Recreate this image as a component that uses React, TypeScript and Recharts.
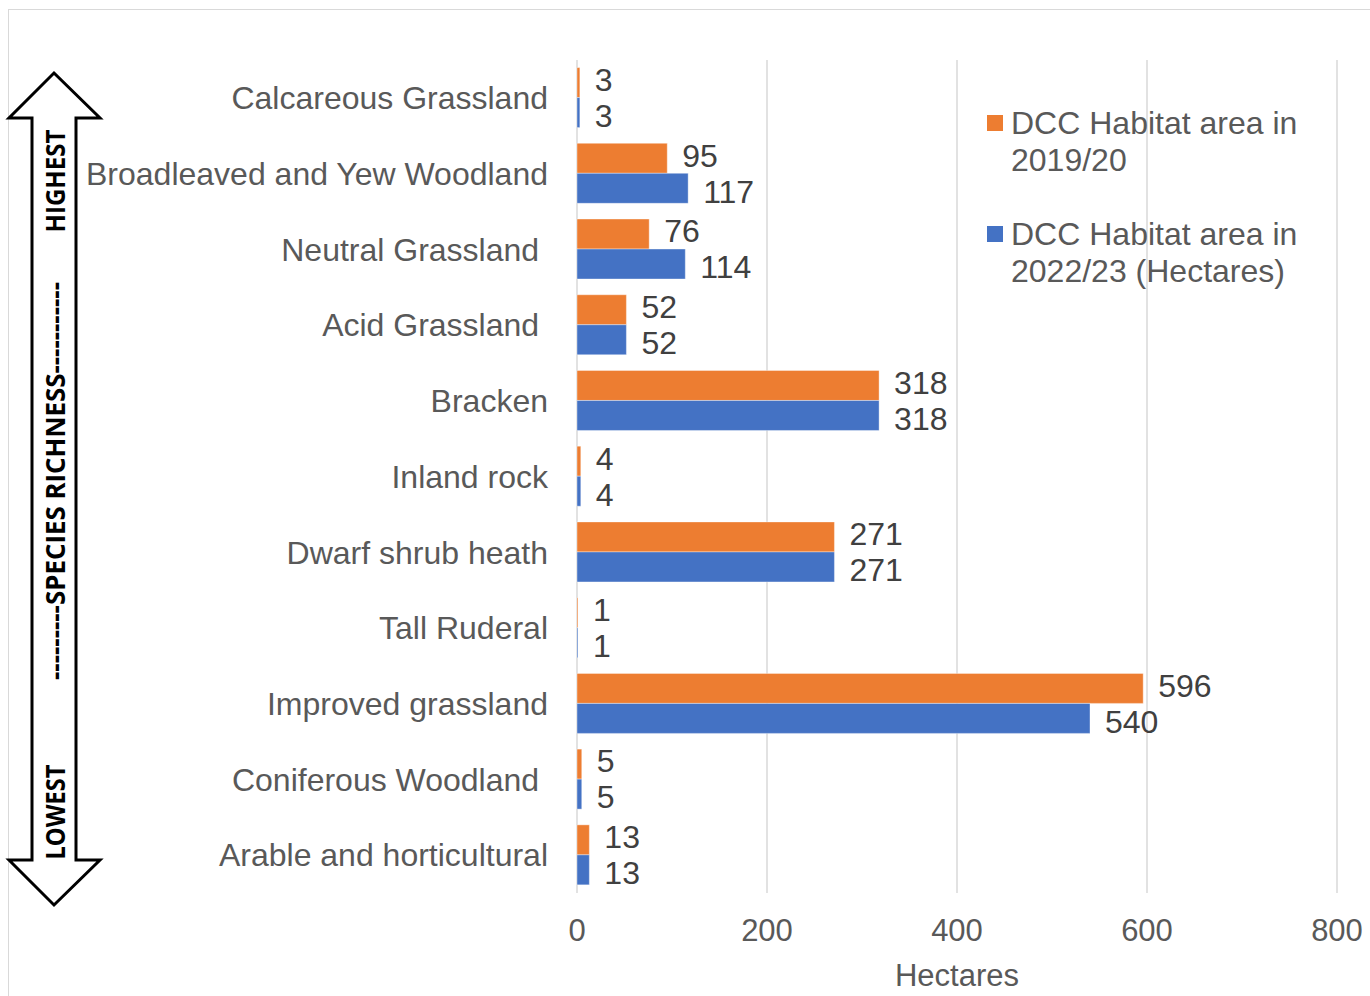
import React from 'react';
import { BarChart, Bar, XAxis, YAxis, CartesianGrid, Legend, LabelList } from 'recharts';

const categories: string[] = [
  'Calcareous Grassland',
  'Broadleaved and Yew Woodland',
  'Neutral Grassland ',
  'Acid Grassland ',
  'Bracken',
  'Inland rock',
  'Dwarf shrub heath',
  'Tall Ruderal',
  'Improved grassland',
  'Coniferous Woodland ',
  'Arable and horticultural',
];

const area2019: number[] = [3, 95, 76, 52, 318, 4, 271, 1, 596, 5, 13];
const area2022: number[] = [3, 117, 114, 52, 318, 4, 271, 1, 540, 5, 13];

const seriesNames: string[] = [
  'DCC Habitat area in 2019/20',
  'DCC Habitat area in 2022/23 (Hectares)',
];

const xTicks: number[] = [0, 200, 400, 600, 800];

const data = categories.map((name, i) => ({
  name,
  a2019: area2019[i],
  a2022: area2022[i],
}));

const ORANGE = '#ED7D31';
const BLUE = '#4472C4';
const FONT = '"Liberation Sans", Arial, sans-serif';

const CategoryTick = (props: any) => {
  const { x, y, payload } = props;
  return (
    <text
      x={x}
      y={y}
      dy="0.355em"
      textAnchor="end"
      fill="#595959"
      fontSize={32}
      fontFamily={FONT}
      xmlSpace="preserve"
      style={{ whiteSpace: 'pre' }}
    >
      {payload.value}
    </text>
  );
};

const makeLabel = (shift: number) => (props: any) => {
  const { x, y, width, height, value } = props;
  return (
    <text
      x={Number(x) + Number(width) + 15}
      y={Number(y) + Number(height) / 2 + shift}
      dy="0.355em"
      textAnchor="start"
      fill="#404040"
      fontSize={32}
      fontFamily={FONT}
    >
      {value}
    </text>
  );
};

const LegendContent = () => {
  const colors = [ORANGE, BLUE];
  return (
    <div style={{ fontFamily: FONT, fontSize: 32, lineHeight: '37px', color: '#595959' }}>
      {seriesNames.map((n, i) => (
        <div key={n} style={{ display: 'flex', alignItems: 'flex-start', marginBottom: i === 0 ? 37 : 0 }}>
          <div style={{ width: 16, height: 16, background: colors[i], marginTop: 10, marginRight: 8, flexShrink: 0 }} />
          <div style={{ width: 300 }}>{n}</div>
        </div>
      ))}
    </div>
  );
};

const Arrow = () => (
  <svg width={110} height={920} style={{ position: 'absolute', left: 0, top: 0 }}>
    <path
      d="M54,73 L100,118 L76,118 L76,860 L100,860 L54,905 L9,860 L32,860 L32,118 L9,118 Z"
      fill="#ffffff"
      stroke="#000000"
      strokeWidth={3}
      strokeLinejoin="miter"
    />
    <g fontFamily='"Open Sans", "Liberation Sans", sans-serif' fontWeight="bold" fontSize={27} fill="#000">
      <text x={0} y={0} dy="0.355em" textAnchor="middle" textLength={103} lengthAdjust="spacingAndGlyphs" transform="translate(55,181) rotate(-90)">
        HIGHEST
      </text>
      <text x={0} y={0} dy="0.355em" textAnchor="middle" textLength={398} lengthAdjust="spacingAndGlyphs" transform="translate(55,481) rotate(-90)">
        ---------SPECIES RICHNESS-----------
      </text>
      <text x={0} y={0} dy="0.355em" textAnchor="middle" textLength={95} lengthAdjust="spacingAndGlyphs" transform="translate(55,812) rotate(-90)">
        LOWEST
      </text>
    </g>
  </svg>
);

export default function App() {
  return (
    <div style={{ position: 'fixed', left: 0, top: 0, width: 1370, height: 996, overflow: 'hidden', background: '#fff' }}>
      <div
        style={{
          position: 'absolute',
          left: 8,
          top: 9,
          width: 1400,
          height: 1000,
          borderLeft: '1px solid #d9d9d9',
          borderTop: '1px solid #d9d9d9',
        }}
      />
      <div style={{ position: 'absolute', left: 0, top: 0 }}>
        <BarChart
          width={1370}
          height={996}
          data={data}
          layout="vertical"
          margin={{ top: 60, right: 33, bottom: 0, left: 0 }}
          barCategoryGap="10%"
          barGap={0}
        >
          <CartesianGrid horizontal={false} vertical={true} stroke="#d9d9d9" strokeWidth={1.5} />
          <XAxis
            type="number"
            domain={[0, 800]}
            ticks={xTicks}
            height={103}
            axisLine={false}
            tickLine={false}
            tickSize={0}
            tickMargin={26}
            tick={{ fill: '#595959', fontSize: 31, fontFamily: FONT }}
            label={{ value: 'Hectares', position: 'insideBottom', offset: 10, fill: '#595959', fontSize: 31, fontFamily: FONT }}
          />
          <YAxis
            type="category"
            dataKey="name"
            width={577}
            axisLine={false}
            tickLine={false}
            tickSize={0}
            tickMargin={29}
            interval={0}
            tick={<CategoryTick />}
          />
          <Legend
            layout="vertical"
            align="center"
            verticalAlign="middle"
            content={<LegendContent />}
            wrapperStyle={{ left: 987, top: 105, width: 360, height: 'auto' }}
          />
          <Bar dataKey="a2019" name={seriesNames[0]} fill={ORANGE} stroke="#ffffff" strokeOpacity={0.5} strokeWidth={0.75} isAnimationActive={false}>
            <LabelList dataKey="a2019" content={makeLabel(-3)} />
          </Bar>
          <Bar dataKey="a2022" name={seriesNames[1]} fill={BLUE} stroke="#ffffff" strokeOpacity={0.5} strokeWidth={0.75} isAnimationActive={false}>
            <LabelList dataKey="a2022" content={makeLabel(3)} />
          </Bar>
        </BarChart>
      </div>
      <Arrow />
    </div>
  );
}
